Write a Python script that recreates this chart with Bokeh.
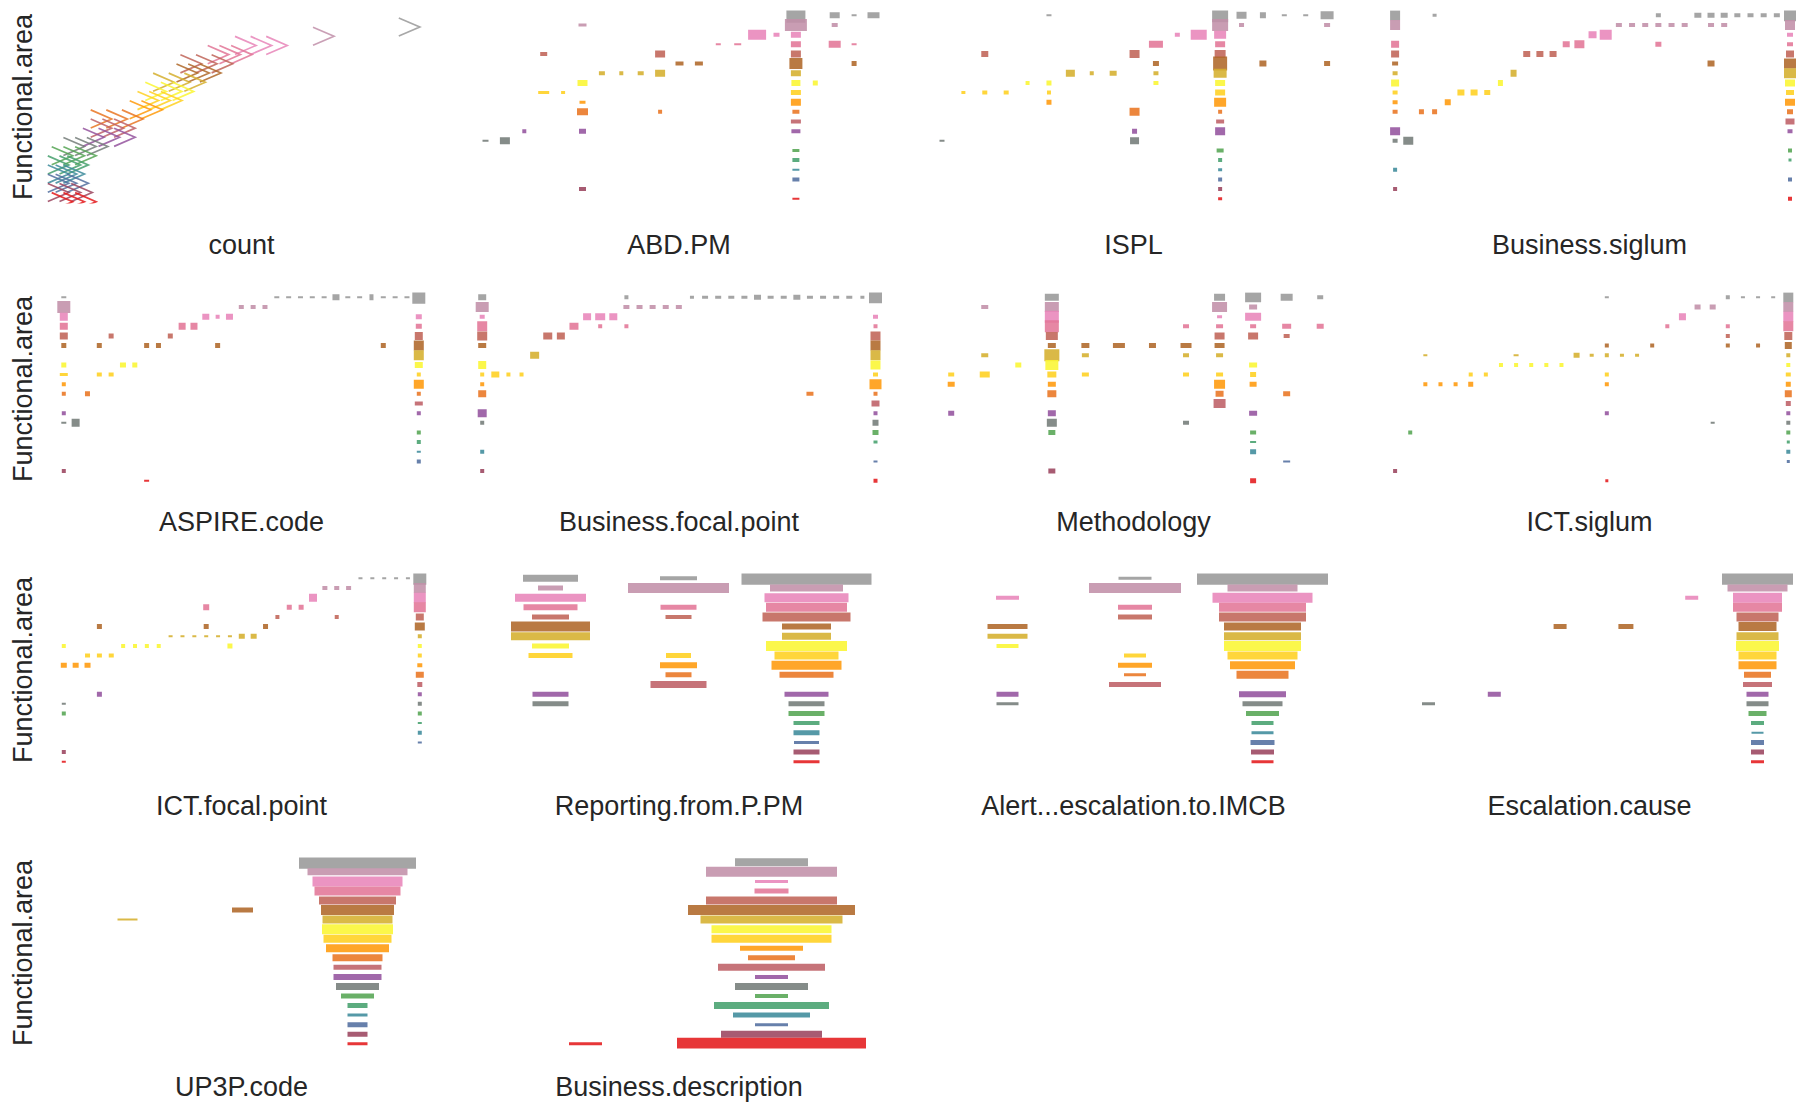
import numpy as np
from bokeh.plotting import figure
from bokeh.layouts import gridplot
from bokeh.models import Range1d, FixedTicker, ColumnDataSource
from bokeh.embed import file_html
from bokeh.resources import INLINE

# ---------------- data ----------------
# Functional.area has 20 levels (1 = bottom ... 20 = top)
N_LEVELS = 20

# "count" panel : level, count value of each glyph
count_level = [20, 19, 18, 18, 18, 17, 17, 17, 16, 16, 16, 15, 15, 15, 14, 14, 14,
               13, 13, 13, 12, 12, 12, 11, 11, 10, 10, 10, 9, 9, 9, 8, 8, 8,
               7, 7, 7, 6, 6, 6, 5, 5, 5, 4, 4, 4, 3, 3, 3, 2, 2, 2, 1, 1, 1]
count_value = [92, 70, 50, 54, 58, 43, 46, 49, 36, 40, 44, 35, 38, 41, 29, 33, 37,
               27, 31, 34, 25, 28, 31, 23, 26, 13, 17, 21, 13, 16, 19, 11, 15, 19,
               6, 9, 12, 3, 6, 9, 2, 5, 7, 2, 4, 6, 2, 4, 7, 2, 5, 8, 3, 6, 9]

# other panels : (category index, level, count width, count height)
ABD_PM = [(1,7,6,2),(2,7,10,7),(3,8,4,4),(4,12,11,3),(5,12,4,3),(4,16,7,4),(6,19,8,3),
          (6,13,10,6),(6,11,6,3),(6,10,11,7),(6,8,7,5),(6,2,7,4),(7,14,6,4),(8,14,4,4),
          (9,14,6,4),(10,14,10,7),(10,16,10,7),(10,10,4,4),(11,15,8,4),(12,15,8,4),
          (13,17,5,2),(14,17,7,2),(15,18,18,10),(16,18,6,4),(17,20,19,15),(17,19,22,12),
          (17,18,10,6),(17,17,10,6),(17,16,10,7),(17,15,13,11),(17,14,10,6),(17,13,9,6),
          (17,12,10,5),(17,11,10,7),(17,10,7,4),(17,9,10,4),(17,8,9,4),(17,6,7,3),
          (17,5,7,4),(17,4,7,2),(17,3,7,4),(17,1,7,2),(18,13,5,5),(19,20,10,6),(19,19,6,4),
          (19,17,12,7),(20,20,5,2),(20,17,5,2),(20,15,5,5),(21,20,12,6)]

ISPL = [(1,7,5,2),(2,12,4,3),(3,16,7,6),(3,12,5,4),(4,12,5,4),(5,13,4,4),(6,20,5,2),
        (6,13,5,5),(6,12,4,4),(6,11,5,5),(7,14,9,7),(8,14,4,4),(9,14,7,5),(10,16,10,8),
        (10,10,10,8),(10,8,5,5),(10,7,9,7),(11,17,14,7),(11,15,6,5),(11,14,5,4),(11,13,5,4),
        (12,18,5,4),(13,18,16,10),(14,20,16,14),(14,19,16,12),(14,18,12,8),(14,17,10,6),
        (14,16,11,8),(14,15,14,14),(14,14,13,9),(14,13,10,6),(14,12,10,6),(14,11,12,9),
        (14,10,4,4),(14,9,8,4),(14,8,10,8),(14,6,7,4),(14,5,4,4),(14,4,4,3),(14,3,4,4),
        (14,2,4,4),(14,1,4,3),(15,20,10,7),(15,19,5,4),(16,20,6,6),(16,15,7,6),(17,20,5,2),
        (18,20,5,2),(19,20,13,8),(19,19,6,4),(19,15,6,5)]

BUSINESS_SIGLUM = [(1,20,10,10),(1,19,10,10),(1,17,8,7),(1,16,8,7),(1,15,6,4),(1,14,5,4),
                   (1,13,8,7),(1,12,5,4),(1,11,5,4),(1,10,5,4),(1,8,10,8),(1,7,5,4),(1,4,4,4),
                   (1,2,4,4),(2,7,10,8),(3,10,5,5),(4,10,5,5),(4,20,4,3),(5,11,6,6),(6,12,7,6),
                   (7,12,7,6),(8,12,6,5),(9,13,5,6),(10,14,6,7),(11,16,7,6),(12,16,7,6),
                   (13,16,7,6),(14,17,7,6),(15,17,10,8),(16,18,8,7),(17,18,12,10),(18,19,6,4),
                   (19,19,6,4),(20,19,6,4),(21,19,6,4),(22,19,6,4),(23,19,6,4),(21,17,6,5),
                   (21,20,5,4),(24,20,7,5),(25,20,7,5),(26,20,7,5),(27,20,6,4),(28,20,6,4),
                   (29,20,6,4),(30,20,6,4),(25,19,6,4),(26,19,6,4),(25,15,7,6),(31,20,12,12),
                   (31,19,10,10),(31,18,6,4),(31,17,6,4),(31,16,8,7),(31,15,12,10),(31,14,12,10),
                   (31,13,10,7),(31,12,8,5),(31,11,10,7),(31,10,6,5),(31,9,9,6),(31,8,5,4),
                   (31,6,4,4),(31,5,3,3),(31,3,4,4),(31,1,4,4)]

ASPIRE_CODE = [(1,20,5,2),(1,19,13,12),(1,18,8,8),(1,17,8,7),(1,16,8,7),(1,15,5,5),(1,13,5,5),
               (1,12,8,3),(1,11,4,4),(1,10,4,4),(1,8,4,4),(1,7,5,2),(1,2,4,4),(2,7,8,8),
               (3,10,5,5),(4,15,5,5),(4,12,5,4),(5,16,5,5),(5,12,5,4),(6,13,6,5),(7,13,5,5),
               (8,15,5,5),(8,1,5,2),(9,15,5,5),(10,16,5,5),(11,17,7,7),(12,17,7,7),(13,18,7,6),
               (14,18,4,4),(14,15,5,5),(15,18,7,6),(16,19,5,4),(17,19,5,4),(18,19,5,4),
               (19,20,5,2),(20,20,5,2),(21,20,5,2),(22,20,5,2),(23,20,5,2),(24,20,7,6),
               (25,20,5,2),(26,20,5,2),(27,20,4,6),(28,20,5,2),(29,20,5,2),(30,20,5,2),
               (28,15,5,5),(31,20,13,13),(31,18,6,5),(31,17,6,5),(31,16,8,8),(31,15,10,10),
               (31,14,10,10),(31,13,8,6),(31,12,4,4),(31,11,10,9),(31,10,4,4),(31,9,8,4),
               (31,8,4,4),(31,6,4,4),(31,5,4,4),(31,4,4,2),(31,3,4,4)]

BUSINESS_FOCAL_POINT = [(1,20,8,6),(1,19,13,10),(1,18,5,4),(1,17,10,10),(1,16,10,9),(1,15,8,5),
                        (1,13,8,8),(1,12,4,4),(1,11,4,4),(1,10,8,7),(1,8,9,8),(1,7,4,4),(1,4,4,4),
                        (1,2,4,4),(2,12,8,6),(3,12,4,4),(4,12,4,4),(5,14,9,7),(6,16,9,7),(7,16,8,7),
                        (8,17,9,7),(9,18,8,7),(10,18,10,7),(10,17,4,4),(11,18,8,7),(12,20,4,4),
                        (12,19,6,4),(12,17,4,4),(13,19,6,4),(14,19,6,4),(15,19,6,4),(16,19,6,4),
                        (17,20,4,3),(18,20,6,3),(19,20,6,3),(20,20,6,3),(21,20,6,3),(22,20,7,5),
                        (23,20,6,3),(24,20,6,3),(25,20,7,5),(26,20,6,3),(27,20,6,3),(28,20,6,3),
                        (29,20,6,3),(30,20,4,3),(26,10,7,4),(31,20,13,12),(31,18,5,4),(31,17,4,4),
                        (31,16,10,9),(31,15,10,10),(31,14,10,10),(31,13,10,9),(31,12,5,4),
                        (31,11,12,10),(31,10,4,4),(31,9,8,6),(31,8,4,4),(31,7,6,6),(31,6,6,5),
                        (31,5,4,3),(31,3,4,2),(31,1,4,4)]

METHODOLOGY = [(1,12,6,4),(1,11,7,5),(1,8,6,5),(2,19,7,4),(2,14,7,4),(2,12,10,6),(3,13,6,5),
               (4,20,14,7),(4,19,14,10),(4,18,14,12),(4,17,14,12),(4,16,12,8),(4,15,8,5),
               (4,14,15,12),(4,13,13,10),(4,12,9,6),(4,11,8,5),(4,10,9,7),(4,8,8,6),(4,7,10,8),
               (4,6,7,5),(4,2,7,5),(5,15,8,5),(5,14,7,4),(5,12,7,4),(6,15,12,5),(7,15,7,5),
               (8,17,6,4),(8,15,11,5),(8,14,6,4),(8,12,6,4),(8,7,6,4),(9,20,11,7),(9,19,15,10),
               (9,18,5,3),(9,17,7,4),(9,16,10,7),(9,15,10,5),(9,14,7,4),(9,12,7,4),(9,11,11,9),
               (9,10,8,6),(9,9,12,9),(10,20,16,10),(10,19,8,5),(10,18,16,8),(10,17,6,4),
               (10,16,10,7),(10,13,8,5),(10,12,6,5),(10,11,7,5),(10,8,8,5),(10,6,6,4),
               (10,5,6,2),(10,4,6,5),(10,1,6,5),(11,20,12,7),(11,17,9,5),(11,16,6,4),
               (11,10,7,5),(11,3,7,2),(12,20,6,4),(12,17,7,5)]

ICT_SIGLUM = [(1,2,4,4),(2,6,4,4),(3,11,4,4),(3,14,4,2),(4,11,4,4),(5,11,4,4),(6,11,5,5),
              (6,12,4,4),(7,12,4,4),(8,13,4,4),(9,14,5,2),(9,13,4,4),(10,13,4,4),(11,13,4,4),
              (12,13,4,4),(13,14,6,5),(14,14,4,3),(15,20,4,2),(15,15,4,4),(15,14,4,4),
              (15,12,4,4),(15,11,4,4),(15,8,4,4),(15,1,3,3),(16,14,4,3),(17,14,4,3),(18,15,4,4),
              (19,17,4,4),(20,18,7,7),(21,19,6,5),(22,19,6,5),(22,7,4,2),(23,20,4,4),(23,17,4,4),
              (23,16,4,4),(23,15,4,4),(24,20,4,2),(25,20,4,2),(25,15,4,4),(26,20,4,2),
              (27,20,10,10),(27,19,10,10),(27,18,10,10),(27,17,10,10),(27,16,8,8),(27,15,7,7),
              (27,14,4,4),(27,13,4,4),(27,12,5,4),(27,11,5,5),(27,10,7,7),(27,9,5,5),(27,8,4,4),
              (27,7,4,4),(27,6,4,4),(27,5,3,3),(27,4,4,4),(27,3,3,3)]

ICT_FOCAL_POINT = [(1,13,4,4),(1,11,6,5),(1,7,4,2),(1,6,4,4),(1,2,4,4),(1,1,4,2),(2,11,6,5),
                   (3,12,5,4),(3,11,6,5),(4,15,5,5),(4,12,5,4),(4,8,5,5),(5,12,5,4),(6,13,4,4),
                   (7,13,4,4),(8,13,4,4),(9,13,4,4),(10,14,4,2),(11,14,4,2),(12,14,4,2),
                   (13,17,6,6),(13,15,5,5),(13,14,4,2),(14,14,4,2),(15,14,4,2),(15,13,5,5),
                   (16,14,6,5),(17,14,6,5),(18,15,5,5),(19,16,4,4),(20,17,5,5),(21,17,5,5),
                   (22,18,8,8),(23,19,5,4),(24,19,5,4),(25,19,5,4),(24,16,4,4),(26,20,4,2),
                   (27,20,4,2),(28,20,4,2),(29,20,4,2),(30,20,4,2),(31,20,13,13),(31,19,12,10),
                   (31,18,12,10),(31,17,12,10),(31,16,8,7),(31,15,10,8),(31,14,4,4),(31,13,4,4),
                   (31,12,4,4),(31,11,5,4),(31,10,8,6),(31,9,5,5),(31,8,4,4),(31,7,4,4),
                   (31,6,4,4),(31,5,4,2),(31,4,4,4),(31,3,4,2)]

REPORTING_FROM_P_PM = [(1,20,55,7),(1,19,25,5),(1,18,71,8),(1,17,54,6),(1,16,37,5),(1,15,79,10),
                       (1,14,79,8),(1,13,37,5),(1,12,44,5),(1,8,36,5),(1,7,36,5),
                       (2,20,37,4),(2,19,101,10),(2,17,36,5),(2,16,26,4),(2,12,25,5),(2,11,37,6),
                       (2,10,26,5),(2,9,56,7),
                       (3,20,130,13),(3,19,73,7),(3,18,84,9),(3,17,81,9),(3,16,88,9),(3,15,49,6),
                       (3,14,49,7),(3,13,81,10),(3,12,64,8),(3,11,70,9),(3,10,54,6),(3,8,44,5),
                       (3,7,36,5),(3,6,36,5),(3,5,26,4),(3,4,26,5),(3,3,25,3),(3,2,26,5),(3,1,26,3)]

ALERT_ESCALATION = [(1,18,23,4),(1,15,40,5),(1,14,40,5),(1,13,22,4),(1,8,22,5),(1,7,22,3),
                    (2,20,33,3),(2,19,92,10),(2,17,34,5),(2,16,34,5),(2,12,22,4),(2,11,34,5),
                    (2,10,22,3),(2,9,52,5),
                    (3,20,131,13),(3,19,70,7),(3,18,100,10),(3,17,87,9),(3,16,87,9),(3,15,77,8),
                    (3,14,77,8),(3,13,77,10),(3,12,70,8),(3,11,65,8),(3,10,52,8),(3,8,47,6),
                    (3,7,40,5),(3,6,33,5),(3,5,22,4),(3,4,22,3),(3,3,24,5),(3,2,23,5),(3,1,22,3)]

ESCALATION_CAUSE = [(1,7,13,3),(2,8,13,5),(3,15,13,5),(4,15,15,5),(5,18,13,4),
                    (6,20,71,13),(6,19,60,7),(6,18,49,10),(6,17,49,9),(6,16,42,9),(6,15,38,9),
                    (6,14,42,8),(6,13,43,10),(6,12,38,8),(6,11,38,8),(6,10,27,6),(6,9,29,5),
                    (6,8,22,5),(6,7,22,5),(6,6,18,5),(6,5,13,4),(6,4,12,2),(6,3,13,5),(6,2,13,5),
                    (6,1,13,3)]

UP3P_CODE = [(1,14,20,2),(2,15,21,5),
             (3,20,117,13),(3,19,100,7),(3,18,90,10),(3,17,86,9),(3,16,77,8),(3,15,73,10),
             (3,14,70,8),(3,13,71,10),(3,12,68,8),(3,11,63,8),(3,10,50,7),(3,9,48,5),(3,8,48,6),
             (3,7,43,7),(3,6,33,5),(3,5,20,5),(3,4,20,3),(3,3,20,5),(3,2,20,5),(3,1,20,3)]

BUSINESS_DESCRIPTION = [(1,1,33,3),
                        (2,20,73,8),(2,19,131,10),(2,18,33,3),(2,17,34,5),(2,16,131,8),(2,15,167,10),
                        (2,14,142,8),(2,13,120,8),(2,12,120,8),(2,11,63,5),(2,10,47,5),(2,9,107,7),
                        (2,8,33,4),(2,7,73,7),(2,6,33,4),(2,5,115,7),(2,4,77,5),(2,3,33,3),
                        (2,2,101,7),(2,1,189,12)]

# ---------------- style / layout ----------------
SET1 = ["#E41A1C", "#377EB8", "#4DAF4A", "#984EA3", "#FF7F00",
        "#FFFF33", "#A65628", "#F781BF", "#999999"]


def ramp(n):
    rgb = np.array([[int(c[i:i + 2], 16) for i in (1, 3, 5)] for c in SET1], float)
    out = []
    for v in np.linspace(0, len(SET1) - 1, n):
        i = min(int(np.floor(v)), len(SET1) - 2)
        f = v - i
        c = rgb[i] * (1 - f) + rgb[i + 1] * f
        out.append("#%02x%02x%02x" % tuple(int(round(x)) for x in c))
    return out


LEVEL_COLORS = ramp(N_LEVELS)

COLW = 451
COL_BORDERS = [(45, 14), (20, 16), (25, 14), (25, 4)]
ROW_H = [282, 282, 284, 256]
ROW_T = [10, 10, 9, 9]
ROW_STANDOFF = [26, 21, 24, 23]
FRAME_H = 193
LEVEL_PX = FRAME_H / N_LEVELS
FONT = "Liberation Sans"
LABEL_SIZE = "27px"
CHEVRON_W_PX = 21
CHEVRON_H_PX = 19


def make_fig(col, row, title, first_val, last_val, first_px, last_px, extra_top=0):
    bl, br = COL_BORDERS[col]
    fl = COLW * col + bl
    fr = COLW * (col + 1) - br
    s = (last_px - first_px) / float(last_val - first_val)
    xr = Range1d(first_val - (first_px - fl) / s, last_val + (fr - last_px) / s)
    H, t = ROW_H[row], ROW_T[row]
    top = t - extra_top * LEVEL_PX
    p = figure(width=COLW, height=H, x_range=xr,
               y_range=Range1d(0.5, N_LEVELS + 0.5 + extra_top),
               output_backend="svg", toolbar_location=None,
               min_border_left=bl, min_border_right=br, min_border_top=int(round(top)),
               min_border_bottom=H - t - FRAME_H)
    p.outline_line_color = None
    p.grid.visible = False
    p.background_fill_color = "white"
    p.border_fill_color = "white"
    ax = p.xaxis[0]
    ax.ticker = FixedTicker(ticks=[])
    ax.axis_line_color = None
    ax.major_tick_line_color = None
    ax.minor_tick_line_color = None
    ax.major_tick_out = 0
    ax.major_label_standoff = 0
    ax.axis_label = title
    ax.axis_label_standoff = ROW_STANDOFF[row]
    ax.axis_label_text_font = FONT
    ax.axis_label_text_font_size = LABEL_SIZE
    ax.axis_label_text_font_style = "normal"
    ax.axis_label_text_color = "#262626"
    if col == 0:
        ay = p.yaxis[0]
        ay.ticker = FixedTicker(ticks=[])
        ay.axis_line_color = None
        ay.major_tick_line_color = None
        ay.minor_tick_line_color = None
        ay.major_tick_out = 0
        ay.major_label_standoff = 0
        ay.axis_label = "Functional.area"
        ay.axis_label_standoff = 8
        ay.axis_label_text_font = FONT
        ay.axis_label_text_font_size = LABEL_SIZE
        ay.axis_label_text_font_style = "normal"
        ay.axis_label_text_color = "#262626"
    else:
        p.yaxis.visible = False
    return p, s


def add_marks(p, rows):
    cats = [r[0] for r in rows]
    lv = [r[1] for r in rows]
    src = ColumnDataSource(dict(x=cats, y=lv,
                                w=[r[2] for r in rows],
                                h=[r[3] for r in rows],
                                c=[LEVEL_COLORS[l - 1] for l in lv]))
    p.rect(x="x", y="y", width="w", height="h", width_units="screen",
           height_units="screen", source=src, fill_color="c", fill_alpha=0.88,
           line_color=None)


figs = {}

# count panel: one ">" chevron per glyph (frame extended one level upward)
p, px_per_unit = make_fig(0, 0, "count", 0, 100, 50, 440, extra_top=1)
hw = CHEVRON_W_PX / 2.0 / px_per_unit       # half width, in count units
hh = CHEVRON_H_PX / 2.0 / LEVEL_PX          # half height, in level units
xs, ys = [], []
for v, l in zip(count_value, count_level):
    xs.append([v - hw, v + hw, v - hw])
    ys.append([l + hh - 0.3, l - 0.3, l - hh - 0.3])
src = ColumnDataSource(dict(xs=xs, ys=ys, c=[LEVEL_COLORS[l - 1] for l in count_level]))
p.multi_line(xs="xs", ys="ys", source=src, line_color="c", line_width=1.7,
             line_alpha=0.85, line_join="miter")
figs[(0, 0)] = p

panels = [
    (1, 0, "ABD.PM", ABD_PM, 1, 21, 485, 873),
    (2, 0, "ISPL", ISPL, 1, 19, 941.5, 1326.6),
    (3, 0, "Business.siglum", BUSINESS_SIGLUM, 1, 31, 1394.6, 1789.5),
    (0, 1, "ASPIRE.code", ASPIRE_CODE, 1, 31, 63.3, 418.3),
    (1, 1, "Business.focal.point", BUSINESS_FOCAL_POINT, 1, 31, 481.7, 875),
    (2, 1, "Methodology", METHODOLOGY, 1, 12, 950.7, 1319.7),
    (3, 1, "ICT.siglum", ICT_SIGLUM, 1, 27, 1394.6, 1787.8),
    (0, 2, "ICT.focal.point", ICT_FOCAL_POINT, 1, 31, 63.3, 419.3),
    (1, 2, "Reporting.from.P.PM", REPORTING_FROM_P_PM, 1, 3, 550, 806),
    (2, 2, "Alert...escalation.to.IMCB", ALERT_ESCALATION, 1, 3, 1007, 1262),
    (3, 2, "Escalation.cause", ESCALATION_CAUSE, 1, 6, 1428, 1757),
    (0, 3, "UP3P.code", UP3P_CODE, 1, 3, 127, 357),
    (1, 3, "Business.description", BUSINESS_DESCRIPTION, 1, 2, 585, 771),
]

for col, row, title, rows, v0, v1, px0, px1 in panels:
    p, _ = make_fig(col, row, title, v0, v1, px0, px1)
    add_marks(p, rows)
    figs[(col, row)] = p

layout_rows = []
for r in range(4):
    layout_rows.append([figs.get((c, r)) for c in range(4)])

grid = gridplot(layout_rows, toolbar_location=None)

open("out.html", "w").write(file_html(grid, INLINE))
